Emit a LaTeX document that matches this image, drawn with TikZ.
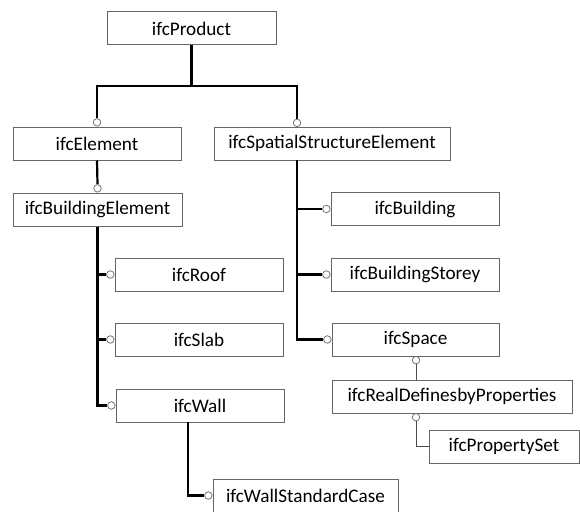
\documentclass[tikz,border=0pt]{standalone}
\usepackage{fontspec}
\setmainfont{Carlito}
\begin{document}
\begin{tikzpicture}[x=1pt,y=-1pt,
  box/.style={draw=black!60,line width=1pt,fill=white,minimum height=33pt,inner sep=0pt,font=\fontsize{19.2}{22}\selectfont},
  ball/.style={circle,draw=black!55,fill=white,line width=0.8pt,minimum size=7.5pt,inner sep=0pt},
  conn/.style={line width=2.2pt,black},
  thin/.style={line width=1pt,black!70}]
\useasboundingbox (0,0) rectangle (580,511);
\node[box,minimum width=169pt] (prod) at (191.5,28.5) {ifcProduct};
\node[box,minimum width=168pt] (elem) at (97,143.5) {ifcElement};
\node[box,minimum width=236pt] (sse) at (332,143.5) {ifcSpatialStructureElement};
\node[box,minimum width=169pt] (be) at (97.5,209.5) {ifcBuildingElement};
\node[box,minimum width=168pt] (roof) at (199,274.5) {ifcRoof};
\node[box,minimum width=168pt] (slab) at (199,339.5) {ifcSlab};
\node[box,minimum width=168pt] (wall) at (200,405.5) {ifcWall};
\node[box,minimum width=168pt] (bldg) at (415,209) {ifcBuilding};
\node[box,minimum width=168pt] (storey) at (415,274.5) {ifcBuildingStorey};
\node[box,minimum width=167pt] (space) at (415.5,339.5) {ifcSpace};
\node[box,minimum width=240pt] (rdp) at (452,396.5) {ifcRealDefinesbyProperties};
\node[box,minimum width=150pt] (pset) at (504,446.5) {ifcPropertySet};
\node[box,minimum width=185pt] (wsc) at (305.5,495.5) {ifcWallStandardCase};
% junction
\coordinate (j) at (191.5,86);
\coordinate (sseb) at (297,160);
\coordinate (wallb) at (188,422);
% circles
\node[ball,anchor=south] (celem) at (elem.north) {};
\node[ball,anchor=south] (csse) at (297,127) {};
\node[ball,anchor=south] (cbe) at (be.north) {};
\node[ball,anchor=east] (croof) at (roof.west) {};
\node[ball,anchor=east] (cslab) at (slab.west) {};
\node[ball,anchor=east] (cwall) at (wall.west) {};
\node[ball,anchor=east] (cbldg) at (bldg.west) {};
\node[ball,anchor=east] (cstorey) at (storey.west) {};
\node[ball,anchor=east] (cspace) at (space.west) {};
\node[ball,anchor=east] (cwsc) at (wsc.west) {};
\node[ball,anchor=north] (crdp) at (416,356) {};
\node[ball,anchor=north] (cpset) at (416,413) {};
% connectors
\draw[conn] (prod.south) -- (j);
\draw[conn] (celem.north) |- (j);
\draw[conn] (csse.north) |- (j);
\draw[conn] (elem.south) -- (cbe.north);
\draw[conn] (be.south) |- (croof.west);
\draw[conn] (be.south) |- (cslab.west);
\draw[conn] (be.south) |- (cwall.west);
\draw[conn] (sseb) |- (cbldg.west);
\draw[conn] (sseb) |- (cstorey.west);
\draw[conn] (sseb) |- (cspace.west);
\draw[conn] (wallb) |- (cwsc.west);
\draw[thin] (crdp.south) -- (crdp.south |- rdp.north);
\draw[thin] (cpset.south) |- (pset.west);
\end{tikzpicture}
\end{document}
